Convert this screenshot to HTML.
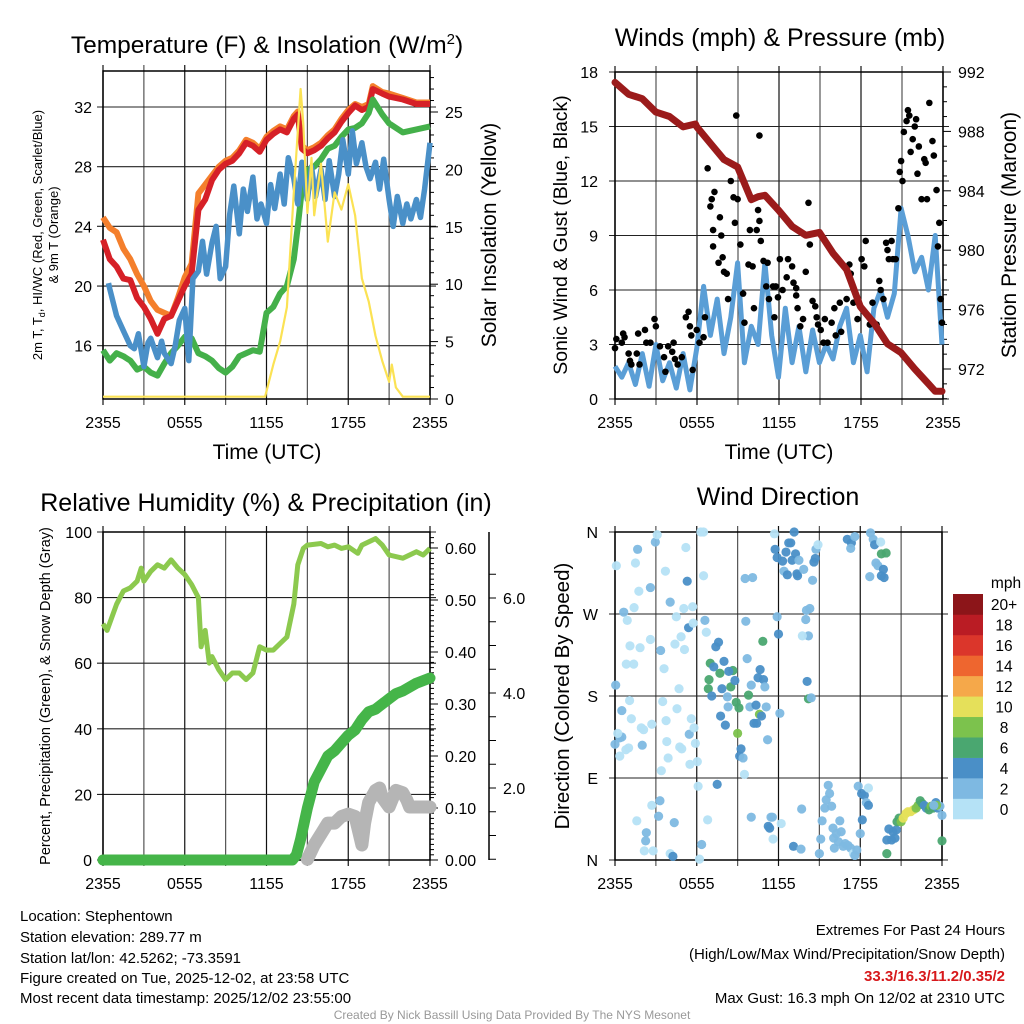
<!DOCTYPE html>
<html><head><meta charset="utf-8">
<style>
html,body{margin:0;padding:0;background:#fff;}
svg{display:block;font-family:"Liberation Sans",Arial,sans-serif;}
</style></head>
<body>
<svg id="fig" width="1024" height="1024" viewBox="0 0 1024 1024" xmlns="http://www.w3.org/2000/svg">
<rect width="1024" height="1024" fill="#fff"/>
<text x="267" y="53" font-size="24.5" text-anchor="middle">Temperature (F) &amp; Insolation (W/m<tspan dy="-9" font-size="15">2</tspan><tspan dy="9">)</tspan></text>
<text x="780" y="46" font-size="25" text-anchor="middle">Winds (mph) &amp; Pressure (mb)</text>
<text x="266" y="511" font-size="25" text-anchor="middle">Relative Humidity (%) &amp; Precipitation (in)</text>
<text x="778" y="505" font-size="25" text-anchor="middle">Wind Direction</text>

<text transform="translate(42,235) rotate(-90)" font-size="13" text-anchor="middle">2m T, T<tspan dy="3" font-size="9">d</tspan><tspan dy="-3">, HI/WC (Red, Green, Scarlet/Blue)</tspan></text>
<text transform="translate(58,235) rotate(-90)" font-size="13" text-anchor="middle">&amp; 9m T (Orange)</text>
<text transform="translate(496,235) rotate(-90)" font-size="21" text-anchor="middle">Solar Insolation (Yellow)</text>
<text x="267" y="459" font-size="21" text-anchor="middle">Time (UTC)</text>
<text transform="translate(567,235) rotate(-90)" font-size="19.5" text-anchor="middle">Sonic Wind &amp; Gust (Blue, Black)</text>
<text transform="translate(1016,235) rotate(-90)" font-size="21" text-anchor="middle">Station Pressure (Maroon)</text>
<text x="779" y="459" font-size="21" text-anchor="middle">Time (UTC)</text>
<text transform="translate(50,696) rotate(-90)" font-size="14.5" text-anchor="middle">Percent, Precipitation (Green), &amp; Snow Depth (Gray)</text>
<text transform="translate(569,696) rotate(-90)" font-size="20.5" text-anchor="middle">Direction (Colored By Speed)</text>

<g font-size="15">
<text x="20" y="921">Location: Stephentown</text>
<text x="20" y="942">Station elevation: 289.77 m</text>
<text x="20" y="963">Station lat/lon: 42.5262; -73.3591</text>
<text x="20" y="983">Figure created on Tue, 2025-12-02, at 23:58 UTC</text>
<text x="20" y="1003">Most recent data timestamp: 2025/12/02 23:55:00</text>
</g>
<g font-size="15" text-anchor="end">
<text x="1005" y="935">Extremes For Past 24 Hours</text>
<text x="1005" y="959">(High/Low/Max Wind/Precipitation/Snow Depth)</text>
<text x="1005" y="981" fill="#d7191c" font-weight="bold">33.3/16.3/11.2/0.35/2</text>
<text x="1005" y="1003">Max Gust: 16.3 mph On 12/02 at 2310 UTC</text>
</g>
<text x="512" y="1019" font-size="12" fill="#999" text-anchor="middle">Created By Nick Bassill Using Data Provided By The NYS Mesonet</text>
<g id="charts"></g>
</svg>
<script>
// ---------- DATA ----------
const timeTicks = ["2355","0555","1155","1755","2355"];
// Panel 1: temperature (hours since 2355)
const tHours = [0,0.5,1,1.5,2,2.5,3,3.5,4,4.5,5,5.5,6,6.5,7,7.5,8,8.5,9,9.5,10,10.5,11,11.5,12,12.5,13,13.5,14,14.3,14.6,15,15.5,16,16.5,17,17.5,18,18.5,19,19.5,19.8,20.5,21,22,23,24];
const temp2m = [23.1,21.8,21.3,20.5,20.4,19.2,18.6,17.8,16.8,17.8,18,19,20,20.8,25.1,25.8,27.1,27.8,28.2,28.4,28.9,29.6,29.4,29,29.8,30.2,30.5,30.3,31.2,31.5,29.2,28.9,29.1,29.4,29.9,30.3,31,31.6,32.1,31.8,32,33.2,32.9,32.7,32.5,32.2,32.2];
const temp9m = [24.6,23.9,23.6,22.5,21.8,20.8,20,19,18.4,18.2,18,19.2,20.6,21.5,26.2,26.8,27.4,28,28.4,28.6,29.1,29.8,29.6,29.2,30,30.4,30.7,30.5,31.4,31.7,29.4,29.1,29.3,29.6,30.1,30.5,31.2,31.8,32.2,32,32.2,33.4,33,32.9,32.6,32.3,32.3];
const dewpt  = [15.7,15,15.5,15.3,15,14.4,14.6,14.2,14,14.8,15.5,16,16.6,16.5,15.5,15.3,15,14.5,14.2,14.6,15.3,15.5,15.7,15.6,18.2,18.6,19.5,20,21.8,24,26.5,27.8,28,28.5,29.2,29.4,30,30.5,30.6,30.9,31.6,32.5,31.5,30.9,30.3,30.5,30.7];
const chillHours = [0.4,0.5,1,1.5,2,2.3,2.6,3,3.3,3.5,4,4.3,4.5,5,5.3,5.6,6,6.3,6.6,7,7.3,7.6,8,8.3,8.6,9,9.3,9.6,10,10.3,10.6,11,11.3,11.6,12,12.3,12.6,13,13.3,13.6,14,14.3,14.6,15,15.3,15.6,16,16.3,16.6,17,17.3,17.6,18,18.3,18.6,19,19.3,19.6,20,20.3,20.6,21,21.3,21.6,22,22.3,22.6,23,23.3,23.6,24];
const windChill  = [20.2,19.8,18,17,16,15.8,16.8,14.6,16.2,16.5,15.2,16.3,15.5,14.8,16,17.7,18.5,15,20.5,21,23,20.8,22.9,24,20.5,21.3,24.8,26.7,23.5,26.5,25,27.3,24.5,25.5,24.2,26.8,25.2,27.5,25.5,28.6,27.2,25.5,28.3,25.8,28,26,27.8,25.8,28.4,26,27.5,29.8,27.5,30.4,28.2,29.6,28,27.2,28.3,26.5,28.5,25.8,24,26,24.2,25.5,24.5,25.8,24.6,26.5,29.6];
const solarHours = [0,11.9,12.5,13,13.5,14,14.5,14.7,15,15.3,15.5,16,16.5,17,17.5,18,18.5,19,19.5,20,20.5,21,21.2,21.5,22,24];
const solar =      [0.2,0.2,3,5,8,18,27,24,16.2,21,16,20.5,13.7,18,16.5,18.7,16,10.5,8.5,5.5,3.3,1.5,3,1,0.2,0.2];
const tempTicks = [16,20,24,28,32];
const solarTicks = [0,5,10,15,20,25];
// Panel 2: winds & pressure
const presHours = [0,1,2,3,4,5,5.9,6,7,8,9,10,10.5,11,12,13,14,15,16,17,18,19,20,21,22,23,23.5,24];
const pressure  = [991.3,990.5,990.2,989.3,989,988.3,988.5,988.3,987.2,986.1,985.6,983.4,983.6,983.7,982.7,981.6,981,981.2,979.8,978.7,976.2,975.1,973.7,973.1,972,971,970.5,970.5];
const windHours = [0,0.5,1,1.5,2,2.5,3,3.5,4,4.5,5,5.5,6,6.5,7,7.5,8,8.5,9,9.5,10,10.5,11,11.5,12,12.5,13,13.5,14,14.5,15,15.5,16,16.5,17,17.5,18,18.5,19,19.5,20,20.5,21,21.5,22,22.5,23,23.5,24];
const windSpeed = [1.8,1.2,2,0.8,2.5,0.7,3,1,2,0.6,2.5,0.5,2.8,6.2,3.5,5.5,2.5,4.5,7.5,2,4,3,7.5,3.5,1.2,5,2,4,1.5,3.8,2,3,2.2,4,5,2,3.5,1.5,5,6,4.5,5.8,10.5,9,7,7.8,6,9,3];
const gustHours = [0,0.1,0.5,0.6,0.7,1,1.1,1.2,1.6,1.7,1.8,2.2,2.3,2.6,2.9,3,3.3,3.6,3.7,3.9,4.2,4.3,4.4,4.6,4.9,5.2,5.4,5.5,5.6,5.7,6,6.2,6.5,6.6,6.8,7,7.1,7.2,7.2,7.3,7.6,7.7,7.8,7.9,8,8.2,8.3,8.5,8.7,8.8,8.9,9,9.2,9.4,9.5,9.8,9.9,10.1,10.2,10.4,10.5,10.6,10.6,10.7,10.9,11.1,11.2,11.3,11.6,11.7,11.8,11.96,12.1,12.3,12.6,12.7,13,13.1,13.3,13.3,13.4,13.6,13.8,14,14.2,14.3,14.5,14.7,14.8,14.9,15.1,15.3,15.4,15.6,15.9,16.1,16.2,16.5,16.6,17,17.2,17.3,17.5,17.8,18.1,18.3,18.4,18.7,18.9,19.2,19.4,19.5,19.7,19.9,20,20.1,20.3,20.4,20.6,20.8,20.9,21,21.1,21.2,21.4,21.5,21.6,21.7,21.85,22,22.1,22.2,22.3,22.5,22.7,22.8,22.9,23.07,23.3,23.4,23.6,23.7,23.8,23.9,24];
const gustSpeed = [2.8,3.3,3.1,3.6,3.4,2.5,2.1,1.9,2.5,3.6,1.9,3.8,3.1,3.1,4.4,4,2.9,2.3,1.5,2.9,2.6,3.1,2.2,1.9,2.3,4.5,4.8,4,3.5,1.6,3.8,3.1,3.4,4.5,12.7,10.6,11,9.3,8.4,11.4,7.5,10,9,7.8,7,6.9,5.5,12,11.1,9.7,15.6,11,8.5,5.8,4.2,7.4,9.3,7.3,5,9.3,10.4,14.5,9.8,8.7,7.6,6.2,7.5,5.5,6.2,4.5,6.2,5.6,7.7,6,6.7,7.7,7.3,6.4,6.1,5.7,5,4,4.4,7,10.8,8.5,5.4,5.1,4.5,4.1,3.8,3.1,4.4,3.1,4.2,5,3.5,5.3,3.7,5.5,7.4,6.9,5.3,4.4,7.7,7.3,8.7,4.1,5.3,4.1,6.5,6,5.5,8.6,8.2,7.7,8.7,7.7,7.7,10.5,12.5,13.1,12,14.7,15.3,15.9,15.6,13.6,14.3,15,15.4,12.4,13.9,11,13.2,13,11,16.3,14.2,13.4,11.5,8.4,9.7,5.5,4.2];
const windTicks = [0,3,6,9,12,15,18];
const presTicks = [972,976,980,984,988,992];
// Panel 3: RH, precip, snow depth
const rhHours = [0,0.3,1,1.5,2,2.5,2.8,3,3.5,4,4.5,5,5.5,6,6.5,7,7.2,7.5,7.8,8,8.5,9,9.5,10,10.5,11,11.5,12,12.5,13,13.5,14,14.3,14.7,15,16,16.5,17,17.5,18,18.7,19,20,20.5,21,22,23,23.5,24];
const relHum  = [72,70,78,82,83,85,89,85,88,90,89,91.5,89,87,84,80,65,70,60,62,58,55,57,57,55,57,65,64,64,66,68,78,90,95,96,96.5,95.5,96,95,95.5,93.5,96,98,96,93,92,94,93,95];
const precipHours = [0,13.9,14.2,14.5,15,15.5,16,16.5,17,17.5,18,18.5,19,19.5,20,21,21.5,22,23,24];
const precip = [0,0,0.01,0.04,0.1,0.15,0.175,0.2,0.21,0.225,0.24,0.25,0.27,0.285,0.29,0.31,0.32,0.325,0.34,0.35];
const snowHours = [15,15.5,16,16.5,17,17.5,18,18.5,19,19.2,19.5,20,20.3,20.5,21,21.5,22,22.3,22.5,24];
const snowDepth = [0.5,0.8,1.03,1.26,1.26,1.4,1.45,1.4,0.8,1.26,1.7,1.95,2.0,1.8,1.6,1.95,1.9,1.75,1.6,1.6];
const rhTicks = [0,20,40,60,80,100];
const precipTicks = ["0.00","0.10","0.20","0.30","0.40","0.50","0.60"];
const snowTicks = ["2.0","4.0","6.0"];
// Panel 4: wind direction scatter
const dirHours = [0.1,0.05,0,0.35,0.5,0.2,0.35,0.5,0.64,0.9,1.07,1.1,1.2,1.37,0.83,1,0.8,1.5,1.4,1.66,1.75,1.84,1.93,2,2.1,2.7,2.6,2.3,2.25,2.15,1.6,2.8,2.96,3.1,2.7,3.3,3.2,2.6,3.35,3.6,3.7,3.5,3.75,3.8,3.9,3.4,4.05,4.05,4.25,4.35,4.5,4.4,4.7,4.55,4.75,4.9,4.85,5.05,5.1,5.2,5.3,5.4,5.45,5.5,5.6,5.7,5.74,5.8,5.9,6.04,6.1,6.3,6.5,6.5,6.6,6.7,6.8,6.36,6.2,6.99,6.9,6.85,7.1,7.25,7.4,7.6,7.5,7.7,7.85,8,7.75,8.1,8.25,8.5,8.65,8.35,8.8,8.3,8.9,9.1,9,9.25,9.15,9.4,9.5,9.55,10.1,9.6,9.7,10,9.8,9.9,10.2,10.35,10.4,10.65,10.5,10.9,11,10.6,10.75,10.85,11.1,11.2,10,11.25,11.35,11.45,11.6,12.2,11.7,11.75,11.9,11.9,12,12.1,12.3,12.4,12.55,12.65,12.75,12.9,13,13.15,13.25,13.35,13.5,13.4,13.85,14.05,14.2,14,13.75,14.3,14.5,14.6,14.7,14.75,14.9,14.1,14.2,14.4,13.1,13.65,13.7,11.55,15.2,15.1,15,15.4,15.5,15.65,15.75,15.9,16,16.05,16.1,16.25,16.4,16.5,16.6,16.75,16.9,17.1,17.3,17.5,17.6,17.75,17.85,18,18.15,18.1,18.3,18.45,18.6,18.6,17.05,17.35,17.3,17.6,18.75,18.95,19.05,19.5,18.7,19.15,19.3,19.55,19.7,19.75,19.55,19.9,19.95,20.1,19.95,20.3,20.4,20.55,20.65,20.7,20.85,21,21.15,21.35,21.5,21.7,21.9,22.1,22.25,22.4,22.55,22.7,22.85,23.05,23.2,23.35,23.55,23.7,23.85,24,24,23.6,23.4];
const dirDeg = [323,192,127,134,135,139,114,164,272,263,175,235,155,215,215,123,121,326,277,341,295,233,145,126,143,149,299,30,21,10,43,10,349,357,60,65,48,242,230,210,317,174,153,130,112,98,283,7,4,41,267,237,188,166,124,122,245,276,231,343,306,255,138,105,155,278,260,145,128,108,81,360,360,312,263,250,44,17,1,216,198,188,180,212,234,239,83,205,188,218,158,148,179,190,208,207,197,168,173,167,139,122,114,112,94,309,310,262,221,192,181,168,150,170,150,209,200,198,190,160,158,240,168,132,47,37,35,47,23,40,358,341,332,267,248,161,328,317,338,313,348,348,329,360,336,314,329,312,319,274,246,264,246,276,307,327,331,341,346,196,177,178,15,12,56,47,43,23,7,57,66,82,73,59,35,24,13,29,20,43,31,15,18,16,13,7,5,11,81,29,44,73,71,63,79,60,352,348,342,355,359,352,346,349,311,326,323,312,319,310,336,337,7,34,22,22,31,24,33,42,46,42,46,51,53,53,55,57,60,65,62,60,57,55,59,57,63,57,59,49,21,60,60];
const dirSpeed = [1,3,3,3,3,1,1,3,3,1,1,1,1,1,1,1,1,1,1,3,1,1,1,3,1,1,3,3,3,1,1,1,3,1,1,3,3,1,3,1,1,1,1,1,1,1,3,1,5,3,1,1,1,1,1,1,1,1,1,1,5,5,3,1,1,1,1,1,1,1,1,1,1,1,3,1,1,3,1,7,7,7,5,5,5,5,5,7,5,5,5,5,3,7,7,5,5,3,7,7,9,5,5,3,1,3,3,3,3,3,7,3,5,5,5,5,5,5,3,9,5,7,3,3,3,5,5,3,1,1,1,5,5,3,5,3,5,3,5,5,5,5,5,5,5,5,3,5,3,3,3,3,1,3,3,5,5,3,1,5,7,3,5,3,3,3,3,3,3,3,3,3,3,3,3,3,3,3,3,3,3,3,3,3,3,1,3,3,3,3,5,5,5,3,1,5,5,5,3,3,3,3,5,1,3,3,3,5,5,5,7,7,7,5,5,5,5,5,5,7,7,9,11,11,11,11,11,9,9,7,7,5,5,7,9,7,5,5,3,3,7,9];
const dirTicks = ["N","E","S","W","N"];
const dirTickVals = [0,90,180,270,360];
const cbLabels = ["0","2","4","6","8","10","12","14","16","18","20+"];
const cbColors = ["#b5e2f6","#7eb9e2","#4a8fc7","#4aa770","#7cc24d","#e5e05a","#f5a84a","#ee662f","#db362b","#ba1c24","#8c1519"];

// ---------- DRAWING ----------
const NS="http://www.w3.org/2000/svg";
const root=document.getElementById('charts');
function mk(tag, attrs, name, parent, inter){
  const el=document.createElementNS(NS,tag);
  for(const k in attrs) el.setAttribute(k,attrs[k]);
  
  
  (parent||root).appendChild(el);
  return el;
}
function txt(x,y,s,name,opts,parent){
  const el=mk('text',Object.assign({x:x,y:y,'font-size':15.5},opts||{}),name,parent);
  el.textContent=s; return el;
}
function xScale(x0){ return t => x0 + t*(327/24); }
function pathFrom(xs,ys,xf,yf){ return xs.map((t,i)=>(i?'L':'M')+xf(t).toFixed(1)+','+yf(ys[i]).toFixed(1)).join(''); }

function frame(g,x0,x1,y0,y1,yGridPx,prefix){
  for(let h=0;h<=24;h+=3){
    const x=x0+h*(x1-x0)/24;
    mk('line',{x1:x,y1:y0-6,x2:x,y2:y1+6,stroke:(h%6===3)?'#555':'#111','stroke-width':1.2},prefix+'-vgrid',g);
  }
  yGridPx.forEach(y=>mk('line',{x1:x0-6,y1:y,x2:x1+6,y2:y,stroke:'#222','stroke-width':1.1},prefix+'-hgrid',g));
  mk('rect',{x:x0,y:y0,width:x1-x0,height:y1-y0,fill:'none',stroke:'#000','stroke-width':1.5},prefix+'-frame',g);
  timeTicks.forEach((s,i)=>txt(x0+i*6*(x1-x0)/24,y1+29,s,prefix+'-x-tick-label',{'text-anchor':'middle','font-size':16},g));
}

// Panel 1
(function(){
  const g=mk('g',{},'temperature-panel');
  const X=xScale(103), YT=v=>107+(32-v)*14.92, YS=v=>399-v*11.48;
  frame(g,103,430,71,399,tempTicks.map(YT),'temp');
  tempTicks.forEach(v=>txt(92,YT(v)+6,String(v),'temp-y-tick-label',{'text-anchor':'end','font-size':16},g));
  for(let v=0;v<=28;v++) mk('line',{x1:430,y1:YS(v),x2:v%5===0?438:434,y2:YS(v),stroke:'#000','stroke-width':1},'solar-tick',g);
  solarTicks.forEach(v=>txt(445,YS(v)+6,String(v),'solar-y-tick-label',{'font-size':16},g));
  const cl=mk('g',{'clip-path':'url(#c1)'},'temp-series',g);
  mk('path',{d:pathFrom(tHours,temp9m,X,YT),fill:'none',stroke:'#f47f2c','stroke-width':6,'stroke-linejoin':'round'},'temp-9m-line',cl);
  mk('path',{d:pathFrom(tHours,temp2m,X,YT),fill:'none',stroke:'#d62027','stroke-width':6,'stroke-linejoin':'round'},'temp-2m-line',cl);
  mk('path',{d:pathFrom(tHours,dewpt,X,YT),fill:'none',stroke:'#44b04a','stroke-width':6,'stroke-linejoin':'round'},'dewpoint-line',cl);
  mk('path',{d:pathFrom(chillHours,windChill,X,YT),fill:'none',stroke:'#4a90c8','stroke-width':5.5,'stroke-linejoin':'round'},'wind-chill-line',cl);
  mk('path',{d:pathFrom(solarHours,solar,X,YS),fill:'none',stroke:'#fbe254','stroke-width':2.2,'stroke-linejoin':'round'},'solar-line',cl);
})();

// Panel 2
(function(){
  const g=mk('g',{},'winds-panel');
  const X=xScale(615), YW=v=>399-v*(327/18), YP=v=>72+(992-v)*14.85;
  frame(g,615,943,72,399,windTicks.map(YW),'wind');
  windTicks.forEach(v=>txt(598,YW(v)+6,String(v),'wind-y-tick-label',{'text-anchor':'end','font-size':16},g));
  for(let v=970;v<=992;v++) mk('line',{x1:943,y1:YP(v),x2:v%4===0?951:947,y2:YP(v),stroke:'#000','stroke-width':1},'pressure-tick',g);
  presTicks.forEach(v=>txt(958,YP(v)+6,String(v),'pressure-y-tick-label',{'font-size':16},g));
  mk('path',{d:pathFrom(windHours,windSpeed,X,YW),fill:'none',stroke:'#5a9ed6','stroke-width':5,'stroke-linejoin':'round'},'sonic-wind-line',g);
  const gg=mk('g',{},'gust-points',g);
  gustHours.forEach((t,i)=>{ mk('circle',{cx:X(t),cy:YW(gustSpeed[i]),r:3.3,fill:'#000'},'gust-point',gg); });
  mk('path',{d:pathFrom(presHours,pressure,X,YP),fill:'none',stroke:'#9b1b1b','stroke-width':7,'stroke-linejoin':'round','stroke-linecap':'round'},'pressure-line',g);
})();

// Panel 3
(function(){
  const g=mk('g',{},'humidity-panel');
  const X=xScale(103), YR=v=>860-v*3.28, YPr=v=>860-v*520, YSn=v=>883-v*47.5;
  frame(g,103,430,532,860,rhTicks.map(YR),'rh');
  rhTicks.forEach(v=>txt(92,YR(v)+6,String(v),'rh-y-tick-label',{'text-anchor':'end','font-size':16},g));
  for(let k=0;k<=62;k++){ const v=k/100; mk('line',{x1:430,y1:YPr(v),x2:k%10===0?438:434,y2:YPr(v),stroke:'#000','stroke-width':1},'precip-tick',g); }
  precipTicks.forEach(s=>txt(445,YPr(parseFloat(s))+6,s,'precip-y-tick-label',{'font-size':16},g));
  mk('line',{x1:489,y1:532,x2:489,y2:860,stroke:'#000','stroke-width':1.5},'snow-axis-line',g);
  for(let k=1;k<=13;k++){ const y=883-k*47.5/2; mk('line',{x1:489,y1:y,x2:496,y2:y,stroke:'#000','stroke-width':1},'snow-tick',g); }
  snowTicks.forEach(s=>txt(503,YSn(parseFloat(s))+6,s,'snow-y-tick-label',{'font-size':16},g));
  mk('path',{d:pathFrom(rhHours,relHum,X,YR),fill:'none',stroke:'#8cc94e','stroke-width':5,'stroke-linejoin':'round'},'rh-line',g);
  mk('path',{d:pathFrom(snowHours,snowDepth,X,YSn),fill:'none',stroke:'#b5b5b5','stroke-width':13,'stroke-linejoin':'round','stroke-linecap':'round'},'snow-depth-line',g);
  mk('path',{d:pathFrom(precipHours,precip,X,YPr),fill:'none',stroke:'#45b549','stroke-width':11,'stroke-linejoin':'round','stroke-linecap':'round'},'precip-line',g);
})();

// Panel 4
(function(){
  const g=mk('g',{},'direction-panel');
  const X=xScale(615), YD=v=>860-v*(328/360);
  frame(g,615,942,532,860,dirTickVals.map(YD),'dir');
  dirTicks.forEach((s,i)=>txt(598,YD(dirTickVals[i])+6,s,'dir-y-tick-label',{'text-anchor':'end','font-size':16},g));
  const pg=mk('g',{},'direction-points',g);
  dirHours.forEach((t,i)=>{
    const sp=(dirSpeed[i]===undefined)?3:dirSpeed[i];
    const c=Math.min(10,Math.floor(sp/2));
    mk('circle',{cx:X(t),cy:YD(dirDeg[i]),r:4.6,fill:cbColors[c],'fill-opacity':0.95},'direction-point',pg);
  });
  const cb=mk('g',{},'speed-colorbar',g);
  const bh=225/cbColors.length;
  cbColors.forEach((col,i)=>{
    const y=819-(i+1)*bh;
    mk('rect',{x:953,y:y,width:30,height:bh+0.3,fill:col},'colorbar-bin',cb);
    txt(1004,y+bh/2+6,cbLabels[i],'colorbar-label',{'text-anchor':'middle','font-size':15.5},cb);
  });
  txt(1006,588,'mph','colorbar-title',{'text-anchor':'middle','font-size':15.5},cb);
})();

const defs=document.createElementNS(NS,'defs');
defs.innerHTML='<clipPath id="c1"><rect x="100" y="68" width="334" height="334"/></clipPath>';
document.getElementById('fig').insertBefore(defs,document.getElementById('fig').firstChild);
</script>
</body></html>
